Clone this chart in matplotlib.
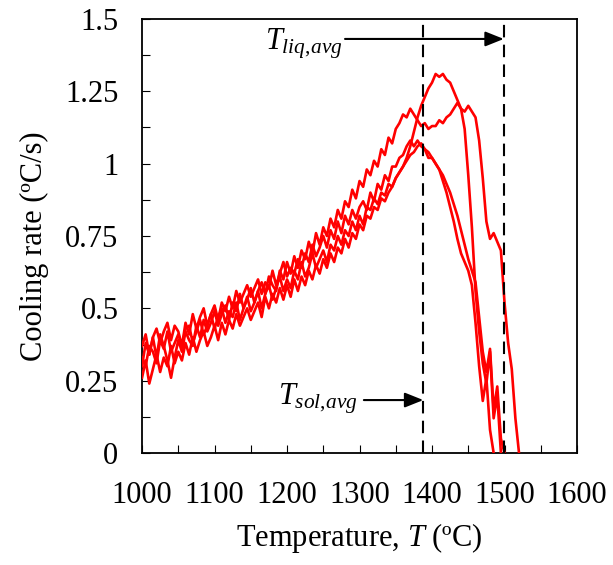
import matplotlib
matplotlib.use('Agg')
import matplotlib.pyplot as plt
import numpy as np

plt.rcParams['font.family'] = 'Liberation Serif'
plt.rcParams['mathtext.fontset'] = 'custom'
plt.rcParams['mathtext.rm'] = 'Liberation Serif'
plt.rcParams['mathtext.it'] = 'Liberation Serif:italic'
plt.rcParams['font.size'] = 22

# temperature sampling (ºC), 5 degree steps
T_GRID = np.arange(1000, 1525, 5)

# cooling rate (ºC/s)
RUN_A = [0.33, 0.30, 0.37, 0.35, 0.31, 0.39, 0.36, 0.42, 0.35, 0.38,
         0.41, 0.37, 0.43, 0.44, 0.38, 0.42, 0.46, 0.41, 0.44, 0.48,
         0.43, 0.47, 0.50, 0.45, 0.49, 0.47, 0.52, 0.46, 0.50, 0.54,
         0.49, 0.52, 0.56, 0.50, 0.55, 0.58, 0.53, 0.57, 0.61, 0.56,
         0.60, 0.57, 0.63, 0.60, 0.66, 0.61, 0.64, 0.69, 0.64, 0.67,
         0.70, 0.66, 0.72, 0.70, 0.75, 0.72, 0.77, 0.75, 0.80, 0.77,
         0.82, 0.79, 0.85, 0.84, 0.88, 0.86, 0.90, 0.89, 0.93, 0.92,
         0.95, 0.97, 0.99, 1.02, 1.06, 1.11, 1.16, 1.20, 1.23, 1.26,
         1.28, 1.31, 1.30, 1.31, 1.29, 1.28, 1.25, 1.22, 1.19, 1.12,
         0.96, 0.78, 0.56, 0.42, 0.31, 0.24, 0.35, 0.12, 0.20, 0.00]

RUN_B = [0.30, 0.38, 0.34, 0.40, 0.33, 0.41, 0.37, 0.32, 0.26, 0.33,
         0.39, 0.35, 0.42, 0.39, 0.37, 0.44, 0.40, 0.46, 0.42, 0.45,
         0.49, 0.44, 0.48, 0.51, 0.46, 0.52, 0.49, 0.55, 0.50, 0.53,
         0.57, 0.52, 0.56, 0.59, 0.55, 0.61, 0.58, 0.56, 0.63, 0.60,
         0.66, 0.62, 0.68, 0.64, 0.70, 0.67, 0.73, 0.69, 0.76, 0.72,
         0.78, 0.75, 0.81, 0.78, 0.84, 0.81, 0.87, 0.85, 0.91, 0.88,
         0.94, 0.92, 0.98, 0.96, 1.01, 0.99, 1.05, 1.03, 1.09, 1.07,
         1.12, 1.14, 1.17, 1.16, 1.19, 1.17, 1.15, 1.13, 1.14, 1.12,
         1.13, 1.13, 1.15, 1.14, 1.16, 1.17, 1.19, 1.21, 1.19, 1.18,
         1.20, 1.18, 1.16, 1.08, 0.95, 0.80, 0.74, 0.76, 0.73, 0.70,
         0.52, 0.38, 0.29, 0.12, 0.00]

RUN_C = [0.37, 0.41, 0.34, 0.40, 0.43, 0.38, 0.42, 0.45, 0.39, 0.44,
         0.42, 0.37, 0.45, 0.41, 0.48, 0.43, 0.47, 0.50, 0.44, 0.48,
         0.51, 0.46, 0.52, 0.49, 0.54, 0.50, 0.56, 0.52, 0.55, 0.58,
         0.54, 0.57, 0.60, 0.55, 0.59, 0.57, 0.63, 0.58, 0.62, 0.66,
         0.61, 0.64, 0.62, 0.67, 0.64, 0.69, 0.66, 0.72, 0.68, 0.71,
         0.75, 0.71, 0.77, 0.74, 0.80, 0.76, 0.82, 0.79, 0.84, 0.81,
         0.85, 0.87, 0.84, 0.90, 0.87, 0.93, 0.91, 0.96, 0.94, 0.99,
         0.99, 1.02, 1.03, 1.06, 1.08, 1.06, 1.08, 1.06, 1.05, 1.02,
         1.02, 1.00, 0.98, 0.94, 0.90, 0.85, 0.80, 0.74, 0.69, 0.66,
         0.63, 0.58, 0.45, 0.30, 0.18, 0.26, 0.08, 0.00]

RUN_D = [0.26, 0.32, 0.24, 0.29, 0.34, 0.28, 0.33, 0.30, 0.37, 0.31,
         0.35, 0.32, 0.38, 0.34, 0.40, 0.35, 0.39, 0.42, 0.37, 0.40,
         0.44, 0.39, 0.45, 0.41, 0.46, 0.43, 0.48, 0.44, 0.47, 0.50,
         0.46, 0.49, 0.52, 0.47, 0.54, 0.50, 0.55, 0.52, 0.57, 0.53,
         0.58, 0.54, 0.60, 0.56, 0.61, 0.58, 0.63, 0.60, 0.65, 0.62,
         0.67, 0.64, 0.69, 0.66, 0.71, 0.69, 0.74, 0.71, 0.76, 0.74,
         0.79, 0.77, 0.82, 0.81, 0.85, 0.84, 0.88, 0.87, 0.90, 0.92,
         0.95, 0.97, 0.99, 1.01, 1.03, 1.04, 1.06, 1.07, 1.05, 1.04,
         1.02, 1.00, 0.98, 0.96, 0.93, 0.90, 0.86, 0.82, 0.77, 0.72,
         0.67, 0.63, 0.59, 0.47, 0.35, 0.28, 0.36, 0.15, 0.23, 0.05,
         0.00]

RUNS = [RUN_A, RUN_B, RUN_C, RUN_D]

T_SOL_AVG = 1388
T_LIQ_AVG = 1499

X_TICKS = [1000, 1100, 1200, 1300, 1400, 1500, 1600]
Y_TICKS = [0, 0.25, 0.5, 0.75, 1, 1.25, 1.5]
Y_TICK_LABELS = ['0', '0.25', '0.5', '0.75', '1', '1.25', '1.5']

fig = plt.figure(figsize=(6.13, 5.65), dpi=100)
ax = fig.add_axes([0.2317, 0.1982, 0.7096, 0.7682])

for run in RUNS:
    ax.plot(T_GRID[:len(run)], run, color='#ff0000', linewidth=1.9, zorder=3)

for t in (T_SOL_AVG, T_LIQ_AVG):
    ax.axvline(t, color='black', linewidth=1.5, linestyle=(0, (6, 3.5)), zorder=4)

arrow = dict(arrowstyle='-|>,head_length=0.45,head_width=0.18', color='black',
             lw=1.5, mutation_scale=25, shrinkA=0, shrinkB=0)
ax.annotate('', xy=(T_LIQ_AVG, 1.431), xytext=(1280, 1.431), arrowprops=arrow)
ax.annotate('', xy=(T_SOL_AVG, 0.183), xytext=(1306, 0.183), arrowprops=arrow)
ax.text(1169.7, 1.393, r'$T_{liq,\!avg}$', ha='left', va='baseline', fontsize=22)
ax.text(1187.6, 0.166, r'$T_{sol,\!avg}$', ha='left', va='baseline', fontsize=22)

ax.set_xlim(1000, 1600)
ax.set_ylim(0, 1.5)
ax.set_xticks(X_TICKS)
ax.set_xticks(np.arange(1050, 1600, 100), minor=True)
ax.set_yticks(Y_TICKS)
ax.set_yticklabels(Y_TICK_LABELS)
ax.set_yticks(np.arange(0.125, 1.5, 0.25), minor=True)
ax.tick_params(axis='both', which='both', direction='in', length=6, width=0.8)
ax.tick_params(axis='x', which='major', pad=20)
ax.tick_params(axis='y', which='major', pad=17)
for s in ax.spines.values():
    s.set_linewidth(1.3)

ax.set_xlabel('Temperature, $T$ (ºC)', labelpad=8)
ax.set_ylabel('Cooling rate (ºC/s)')
ax.yaxis.set_label_coords(-0.215, 0.477)

fig.savefig('out.png', dpi=100)
